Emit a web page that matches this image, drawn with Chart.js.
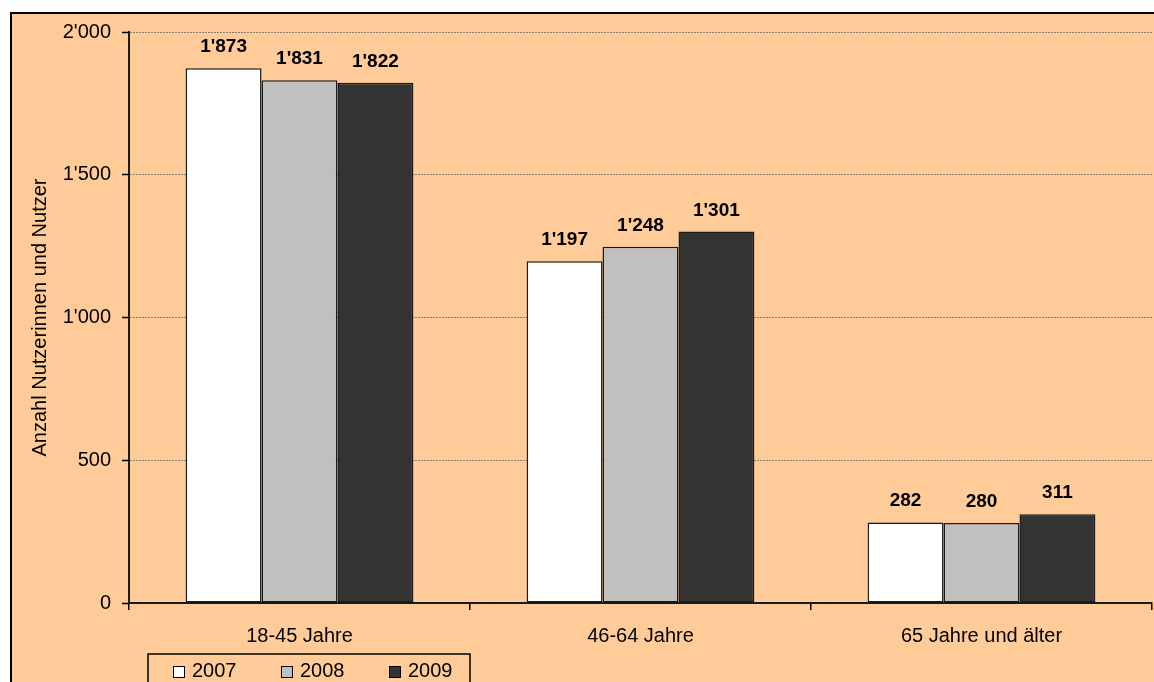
<!DOCTYPE html>
<html>
<head>
<meta charset="utf-8">
<script src="https://cdn.jsdelivr.net/npm/chart.js@4/dist/chart.umd.min.js"></script>
<style>
  html, body { margin: 0; padding: 0; background: #ffffff; overflow: hidden; }
  #wrap { width: 1154px; height: 682px; position: relative; overflow: hidden; }
  canvas { display: block; }
</style>
</head>
<body>
<div id="wrap"><canvas id="c" width="1154" height="682"></canvas></div>
<script>
// Altersgruppen und Nutzerzahlen pro Jahr
const categories = ['18-45 Jahre', '46-64 Jahre', '65 Jahre und älter'];
const years = ['2007', '2008', '2009'];
const values2007 = [1873, 1197, 282];
const values2008 = [1831, 1248, 280];
const values2009 = [1822, 1301, 311];
const yTickValues = [0, 500, 1000, 1500, 2000];
const yAxisTitle = 'Anzahl Nutzerinnen und Nutzer';

const barColors = ['#ffffff', '#c0c0c0', '#333333'];
const FONT = '"Liberation Sans", Arial, sans-serif';
const PEACH = '#ffcc99';

// Tausendertrennzeichen mit Apostroph (1'873)
function fmt(v) {
  return String(v).replace(/\B(?=(\d{3})+(?!\d))/g, "'");
}

// Hintergrund mit Rahmen oben und links
const frame = {
  id: 'frame',
  beforeDraw(chart) {
    const ctx = chart.ctx;
    ctx.save();
    ctx.fillStyle = '#ffffff';
    ctx.fillRect(0, 0, chart.width, chart.height);
    ctx.fillStyle = PEACH;
    ctx.fillRect(11, 13, chart.width - 11, chart.height - 13);
    ctx.fillStyle = '#000000';
    ctx.fillRect(10, 12, chart.width - 10, 2);
    ctx.fillRect(10, 12, 2, chart.height - 12);
    ctx.restore();
  }
};

// Werte über den Säulen
const valueLabels = {
  id: 'valueLabels',
  afterDatasetsDraw(chart) {
    const ctx = chart.ctx;
    ctx.save();
    ctx.font = 'bold 19px ' + FONT;
    ctx.fillStyle = '#000000';
    ctx.textAlign = 'center';
    ctx.textBaseline = 'alphabetic';
    chart.data.datasets.forEach((ds, i) => {
      chart.getDatasetMeta(i).data.forEach((bar, j) => {
        ctx.fillText(fmt(ds.data[j]), bar.x, bar.y - 16);
      });
    });
    ctx.restore();
  }
};

// Legende unten links im Kasten
const boxLegend = {
  id: 'boxLegend',
  afterDraw(chart) {
    const ctx = chart.ctx;
    ctx.save();
    ctx.strokeStyle = '#000000';
    ctx.lineWidth = 1.5;
    ctx.strokeRect(148, 654, 322, 40);
    ctx.font = '20px ' + FONT;
    ctx.textBaseline = 'alphabetic';
    ctx.textAlign = 'left';
    const xs = [173, 281, 389];
    chart.data.datasets.forEach((ds, i) => {
      const x = xs[i];
      ctx.fillStyle = ds.backgroundColor;
      ctx.fillRect(x, 666, 11, 11);
      ctx.lineWidth = 1;
      ctx.strokeStyle = '#000000';
      ctx.strokeRect(x + 0.5, 666.5, 11, 11);
      ctx.fillStyle = '#000000';
      ctx.fillText(ds.label, x + 19, 677);
    });
    ctx.restore();
  }
};

const datasets = [values2007, values2008, values2009].map((vals, i) => ({
  label: years[i],
  data: vals,
  backgroundColor: barColors[i],
  borderColor: '#1a1a1a',
  borderWidth: 1.5,
  borderSkipped: false,
  categoryPercentage: 0.668,
  barPercentage: 1.0
}));

new Chart(document.getElementById('c'), {
  type: 'bar',
  data: { labels: categories, datasets },
  options: {
    responsive: false,
    devicePixelRatio: 1,
    animation: false,
    layout: { padding: { left: 10, top: 32, right: 2, bottom: 0 } },
    plugins: {
      legend: { display: false },
      tooltip: { enabled: false }
    },
    scales: {
      x: {
        grid: {
          offset: true,
          drawOnChartArea: false,
          color: 'rgba(0,0,0,0)',
          tickColor: '#000000',
          tickLength: 7,
          tickWidth: 1.5,
          lineWidth: 1.5
        },
        border: { color: '#1a1a1a', width: 2, z: 1 },
        ticks: { font: { size: 20, family: FONT }, color: '#000000', padding: 14 },
        afterFit(scale) { scale.height = 79; }
      },
      y: {
        min: 0,
        max: 2000,
        afterBuildTicks(scale) { scale.ticks = yTickValues.map(v => ({ value: v })); },
        grid: {
          color: '#8c7c6c',
          lineWidth: 1,
          tickColor: '#000000',
          tickLength: 7,
          tickWidth: 1.5
        },
        border: { color: '#1a1a1a', width: 2, dash: [2, 1] },
        ticks: {
          font: { size: 20, family: FONT },
          color: '#000000',
          padding: 11,
          callback: v => fmt(v)
        },
        title: {
          display: true,
          text: yAxisTitle,
          font: { size: 20, family: FONT },
          color: '#000000',
          padding: { top: 18, bottom: 0 }
        },
        afterFit(scale) { scale.width = 119; }
      }
    }
  },
  plugins: [frame, valueLabels, boxLegend]
});
</script>
</body>
</html>
